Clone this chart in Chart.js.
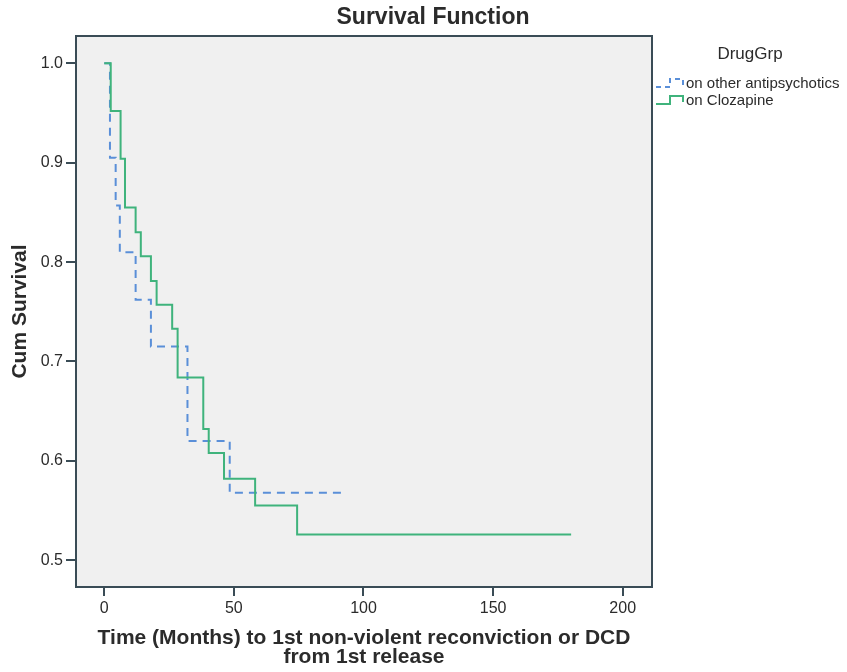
<!DOCTYPE html>
<html>
<head>
<meta charset="utf-8">
<script src="https://cdn.jsdelivr.net/npm/chart.js@4/dist/chart.umd.min.js"></script>
<style>
  html, body { margin: 0; padding: 0; background: #ffffff; }
  #wrap { width: 847px; height: 672px; }
</style>
</head>
<body>
<div id="wrap"><canvas id="c" width="847" height="672"></canvas></div>
<script>
// ---- data ----
const chartTitle = 'Survival Function';
const legendTitle = 'DrugGrp';
const seriesNames = ['on other antipsychotics', 'on Clozapine'];

// on other antipsychotics: event times (months) and cumulative survival after each step
const otherTimes = [0, 2.2, 4.4, 6.0, 12.1, 18.0, 32.1, 48.4, 93.4];
const otherSurv  = [1.0, 0.905, 0.857, 0.810, 0.762, 0.715, 0.620, 0.568, 0.568];

// on Clozapine
const clozTimes = [0, 2.5, 6.3, 8.0, 12.1, 14.1, 18.0, 20.2, 26.2, 28.3, 38.2, 40.3, 46.2, 58.2, 74.4, 180.1];
const clozSurv  = [1.0, 0.952, 0.904, 0.855, 0.830, 0.806, 0.781, 0.757, 0.733, 0.684, 0.632, 0.608, 0.582, 0.555, 0.526, 0.526];

const xTicks = [0, 50, 100, 150, 200];
const yTicks = [0.5, 0.6, 0.7, 0.8, 0.9, 1.0];
const xTitle = ['Time (Months) to 1st non-violent reconviction or DCD', 'from 1st release'];
const yTitle = 'Cum Survival';

// ---- styling ----
const FONT = '"Liberation Sans", Arial, Helvetica, sans-serif';
const AXIS_COL = '#3a4c56';
const TEXT_COL = '#2b2b2b';
const BLUE = '#5a8fd8';
const GREEN = '#3fb37c';

function toPts(xs, ys) { return xs.map((x, i) => ({ x: x, y: ys[i] })); }

const plotFrame = {
  id: 'plotFrame',
  beforeDatasetsDraw(chart) {
    const { ctx, chartArea: a } = chart;
    ctx.save();
    ctx.fillStyle = '#f0f0f0';
    ctx.fillRect(a.left, a.top, a.right - a.left, a.bottom - a.top);
    ctx.restore();
  },
  afterDatasetsDraw(chart) {
    const { ctx, chartArea: a } = chart;
    ctx.save();
    ctx.strokeStyle = AXIS_COL;
    ctx.lineWidth = 2;
    ctx.strokeRect(a.left, a.top, a.right - a.left, a.bottom - a.top);
    ctx.restore();
  },
  afterDraw(chart) {
    const { ctx } = chart;
    ctx.save();
    // chart title
    ctx.fillStyle = TEXT_COL;
    ctx.font = 'bold 23px ' + FONT;
    ctx.textAlign = 'center';
    ctx.textBaseline = 'middle';
    ctx.fillText(chartTitle, 433, 18);
    // legend title
    ctx.font = '17px ' + FONT;
    ctx.fillText(legendTitle, 750, 54);
    // legend items
    ctx.textAlign = 'left';
    ctx.font = '15px ' + FONT;
    const items = [
      { name: seriesNames[0], color: BLUE, dash: [5, 4], y: 84 },
      { name: seriesNames[1], color: GREEN, dash: [], y: 101 }
    ];
    items.forEach(it => {
      ctx.strokeStyle = it.color;
      ctx.lineWidth = 2;
      ctx.setLineDash(it.dash);
      ctx.beginPath();
      ctx.moveTo(656, it.y + 3);
      ctx.lineTo(670, it.y + 3);
      ctx.lineTo(670, it.y - 5);
      ctx.lineTo(683, it.y - 5);
      ctx.lineTo(683, it.y + 1);
      ctx.stroke();
      ctx.setLineDash([]);
      ctx.fillStyle = TEXT_COL;
      ctx.fillText(it.name, 686, it.y);
    });
    ctx.restore();
  }
};

new Chart(document.getElementById('c'), {
  type: 'line',
  data: {
    datasets: [
      {
        label: seriesNames[1],
        data: toPts(clozTimes, clozSurv),
        borderColor: GREEN,
        borderWidth: 2,
        stepped: 'before',
        pointRadius: 0,
        fill: false
      },
      {
        label: seriesNames[0],
        data: toPts(otherTimes, otherSurv),
        borderColor: BLUE,
        borderWidth: 2,
        borderDash: [8, 6],
        stepped: 'before',
        pointRadius: 0,
        fill: false
      }
    ]
  },
  options: {
    responsive: false,
    animation: false,
    devicePixelRatio: 1,
    layout: { padding: { top: 36, right: 195, left: 0, bottom: 0 } },
    plugins: {
      legend: { display: false },
      title: { display: false },
      tooltip: { enabled: false }
    },
    scales: {
      x: {
        type: 'linear',
        min: -10.9,
        max: 211.3,
        afterBuildTicks(axis) { axis.ticks = xTicks.map(v => ({ value: v })); },
        afterFit(axis) { axis.height = 85; },
        border: { display: false },
        grid: { drawOnChartArea: false, drawTicks: true, tickLength: 9, color: AXIS_COL, lineWidth: 2 },
        ticks: { color: TEXT_COL, font: { family: FONT, size: 16 }, padding: 3, maxRotation: 0,
                 callback: v => String(v) },
        title: { display: true, text: xTitle, color: TEXT_COL,
                 font: { family: FONT, size: 21, weight: 'bold', lineHeight: 0.92 },
                 padding: { top: 0, bottom: 5 } }
      },
      y: {
        type: 'linear',
        min: 0.4731,
        max: 1.0275,
        afterBuildTicks(axis) { axis.ticks = yTicks.map(v => ({ value: v })); },
        afterFit(axis) { axis.width = 76; },
        border: { display: false },
        grid: { drawOnChartArea: false, drawTicks: true, tickLength: 10, color: AXIS_COL, lineWidth: 2 },
        ticks: { color: TEXT_COL, font: { family: FONT, size: 16 }, padding: 3,
                 callback: v => Number(v).toFixed(1) },
        title: { display: true, text: yTitle, color: TEXT_COL,
                 font: { family: FONT, size: 21, weight: 'bold', lineHeight: 1 },
                 padding: { top: 10, bottom: 0 } }
      }
    }
  },
  plugins: [plotFrame]
});
</script>
</body>
</html>
